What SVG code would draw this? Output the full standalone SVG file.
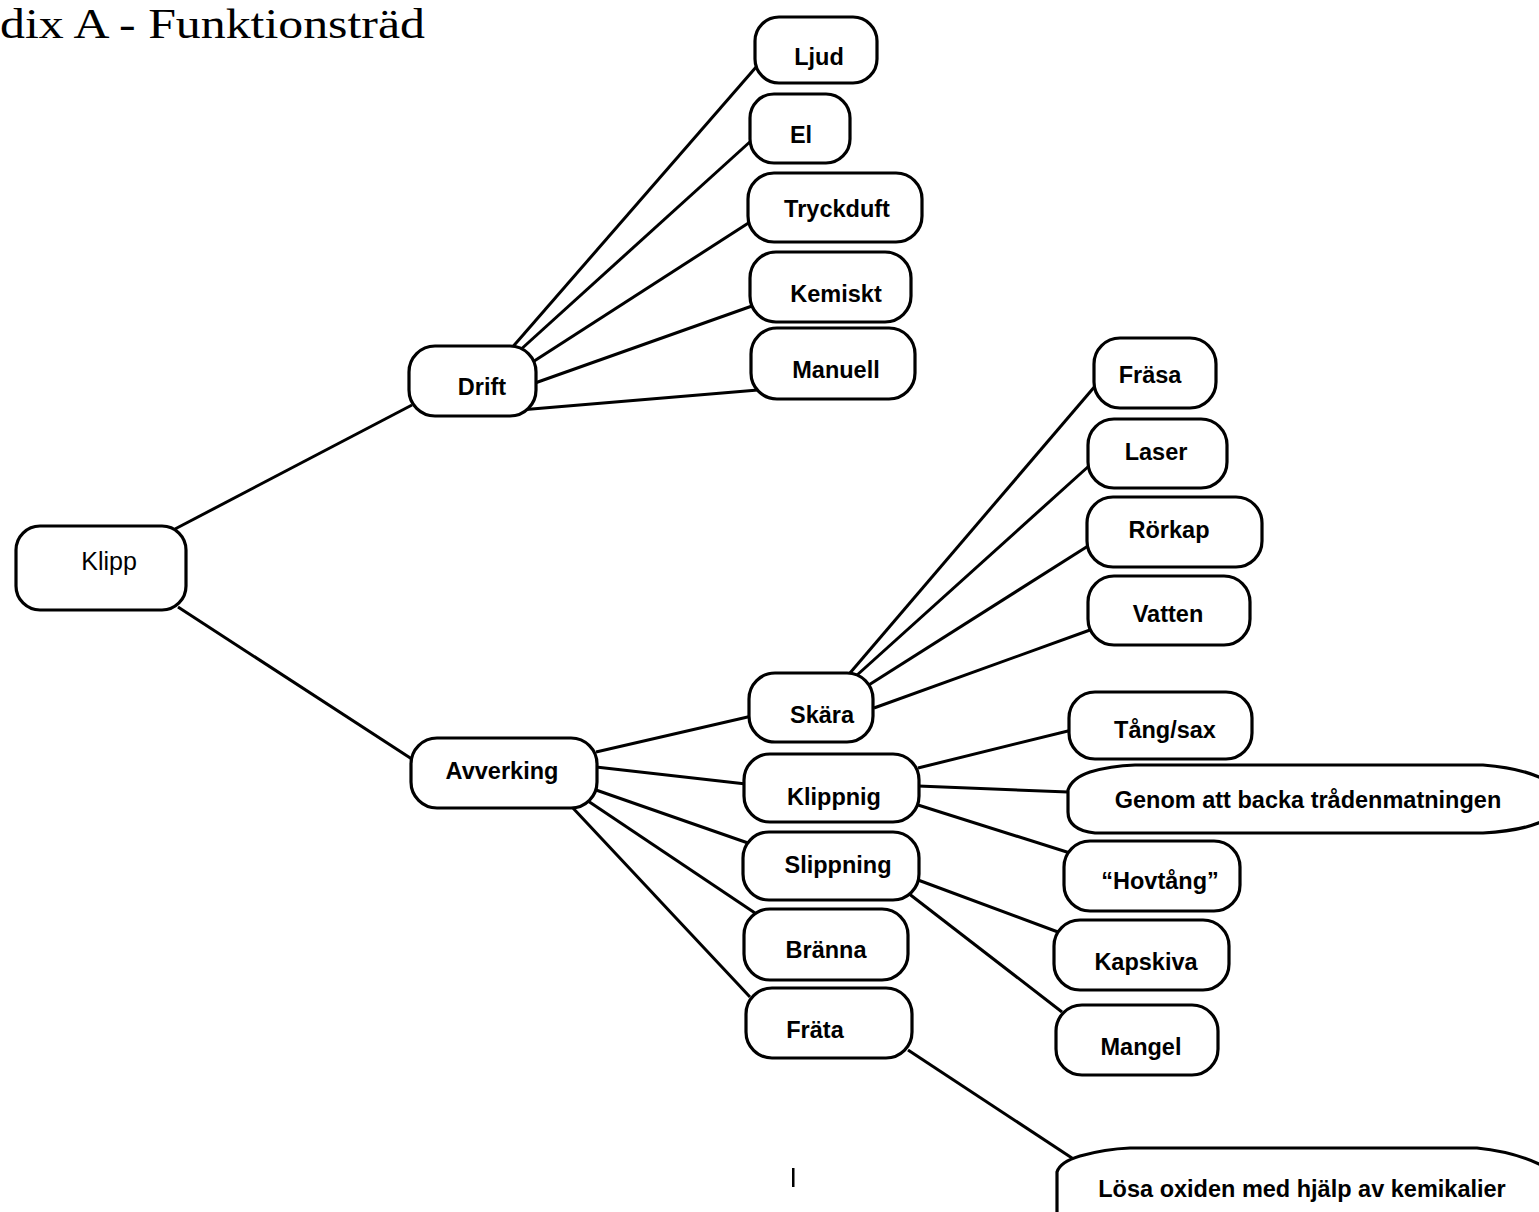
<svg xmlns="http://www.w3.org/2000/svg" width="1539" height="1212" viewBox="0 0 1539 1212">
<style>
.n{fill:#fff;stroke:#000;stroke-width:3.2}
.t{font-family:"Liberation Sans",Arial,sans-serif;font-weight:bold;font-size:23.5px;letter-spacing:0px;text-anchor:middle;fill:#000}
.c line{stroke:#000;stroke-width:3}
</style>
<rect width="1539" height="1212" fill="#fff"/>
<text x="0" y="38" font-family="Liberation Serif,serif" font-size="42" textLength="425" lengthAdjust="spacingAndGlyphs">dix A - Funktionsträd</text>
<g class="c" id="connectors">
<line x1="175" y1="529" x2="412" y2="405"/>
<line x1="178" y1="607" x2="418" y2="763"/>
<line x1="510" y1="350" x2="757" y2="66"/>
<line x1="518" y1="352" x2="752" y2="140"/>
<line x1="528" y1="365" x2="750" y2="222"/>
<line x1="535" y1="383" x2="752" y2="306"/>
<line x1="520" y1="410" x2="758" y2="390"/>
<line x1="850" y1="673" x2="1096" y2="385"/>
<line x1="856" y1="676" x2="1090" y2="465"/>
<line x1="864" y1="688" x2="1088" y2="546"/>
<line x1="874" y1="708" x2="1090" y2="630"/>
<line x1="596" y1="752" x2="752" y2="716"/>
<line x1="596" y1="767" x2="746" y2="784"/>
<line x1="596" y1="790" x2="748" y2="843"/>
<line x1="585" y1="799" x2="755" y2="913"/>
<line x1="572" y1="807" x2="750" y2="997"/>
<line x1="918" y1="768" x2="1072" y2="730"/>
<line x1="918" y1="786" x2="1068" y2="792"/>
<line x1="918" y1="805" x2="1070" y2="853"/>
<line x1="918" y1="880" x2="1058" y2="932"/>
<line x1="908" y1="893" x2="1062" y2="1012"/>
<line x1="908" y1="1050" x2="1075" y2="1160"/>
</g>
<g id="klipp"><rect class="n" x="16" y="526" width="170" height="84" rx="24"/><text x="109" y="570" font-family="Liberation Sans,Arial,sans-serif" font-size="25" text-anchor="middle">Klipp</text></g>
<g id="drift"><rect class="n" x="409" y="346" width="127" height="70" rx="26"/><text class="t" x="482" y="395">Drift</text></g>
<g id="ljud"><rect class="n" x="755" y="17" width="122" height="66" rx="24"/><text class="t" x="819" y="65">Ljud</text></g>
<g id="el"><rect class="n" x="750" y="94" width="100" height="69" rx="24"/><text class="t" x="801" y="143">El</text></g>
<g id="tryckduft"><rect class="n" x="748" y="173" width="174" height="69" rx="26"/><text class="t" x="837" y="217">Tryckduft</text></g>
<g id="kemiskt"><rect class="n" x="750" y="252" width="161" height="70" rx="26"/><text class="t" x="836" y="302">Kemiskt</text></g>
<g id="manuell"><rect class="n" x="751" y="328" width="164" height="71" rx="26"/><text class="t" x="836" y="378">Manuell</text></g>
<g id="frasa"><rect class="n" x="1094" y="338" width="122" height="70" rx="26"/><text class="t" x="1150" y="383">Fräsa</text></g>
<g id="laser"><rect class="n" x="1088" y="419" width="139" height="69" rx="26"/><text class="t" x="1156" y="460">Laser</text></g>
<g id="rorkap"><rect class="n" x="1087" y="497" width="175" height="70" rx="26"/><text class="t" x="1169" y="538">Rörkap</text></g>
<g id="vatten"><rect class="n" x="1088" y="576" width="162" height="69" rx="26"/><text class="t" x="1168" y="622">Vatten</text></g>
<g id="skara"><rect class="n" x="749" y="673" width="124" height="69" rx="26"/><text class="t" x="822" y="723">Skära</text></g>
<g id="avverking"><rect class="n" x="411" y="738" width="186" height="70" rx="26"/><text class="t" x="502" y="779">Avverking</text></g>
<g id="klippnig"><rect class="n" x="744" y="754" width="175" height="68" rx="26"/><text class="t" x="834" y="805">Klippnig</text></g>
<g id="slippning"><rect class="n" x="743" y="832" width="176" height="68" rx="26"/><text class="t" x="838" y="873">Slippning</text></g>
<g id="branna"><rect class="n" x="744" y="909" width="164" height="71" rx="26"/><text class="t" x="826" y="958">Bränna</text></g>
<g id="frata"><rect class="n" x="746" y="988" width="166" height="70" rx="26"/><text class="t" x="815" y="1038">Fräta</text></g>
<g id="tangsax"><rect class="n" x="1069" y="692" width="183" height="67" rx="26"/><text class="t" x="1165" y="738">Tång/sax</text></g>
<g id="genom"><path class="n" d="M1068,790 Q1072,778 1090,772 Q1110,766 1135,765 L1483,765 Q1520,768 1541,778 L1541,822 Q1520,831 1483,833 L1095,833 Q1068,830 1068,812 Z"/><text class="t" x="1308" y="808">Genom att backa trådenmatningen</text></g>
<g id="hovtang"><rect class="n" x="1064" y="841" width="176" height="70" rx="26"/><text class="t" x="1160" y="889">“Hovtång”</text></g>
<g id="kapskiva"><rect class="n" x="1054" y="920" width="175" height="70" rx="26"/><text class="t" x="1146" y="970">Kapskiva</text></g>
<g id="mangel"><rect class="n" x="1056" y="1005" width="162" height="70" rx="26"/><text class="t" x="1141" y="1055">Mangel</text></g>
<g id="losa"><path class="n" d="M1057,1172 Q1060,1162 1080,1156 Q1105,1149 1130,1148 L1477,1148 Q1515,1152 1541,1165 L1541,1214 L1057,1214 Z"/><text class="t" x="1302" y="1197">Lösa oxiden med hjälp av kemikalier</text></g>
<rect x="792" y="1168" width="2.5" height="19" fill="#000"/>
</svg>
